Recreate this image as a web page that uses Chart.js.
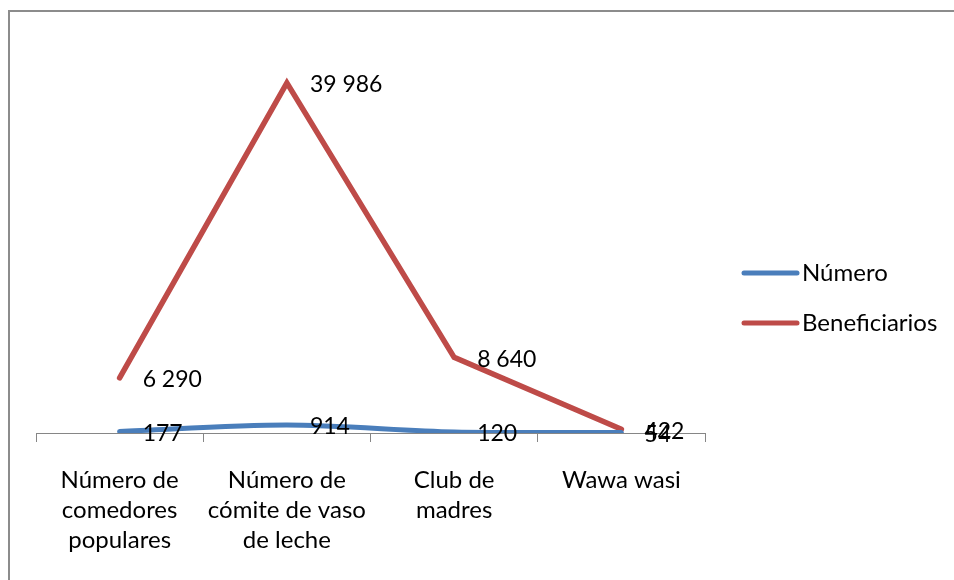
<!DOCTYPE html>
<html>
<head>
<meta charset="utf-8">
<script src="https://cdn.jsdelivr.net/npm/chart.js@4/dist/chart.umd.min.js"></script>
<style>
  html, body { margin: 0; padding: 0; background: #fff; }
  canvas { display: block; }
</style>
</head>
<body>
<canvas id="chart" width="954" height="580"></canvas>
<script>
const categories = [
  ["Número de", "comedores", "populares"],
  ["Número de", "cómite de vaso", "de leche"],
  ["Club de", "madres"],
  ["Wawa wasi"]
];
const numero = [177, 914, 120, 54];
const beneficiarios = [6290, 39986, 8640, 422];
const labelNumero = ["177", "914", "120", "54"];
const labelBeneficiarios = ["6 290", "39 986", "8 640", "422"];

const FONT = "Lato, 'Open Sans', sans-serif";

// gray frame on the left and top edges
const framePlugin = {
  id: "frame",
  beforeDraw(chart) {
    const ctx = chart.ctx;
    ctx.save();
    ctx.fillStyle = "#8c8c8c";
    ctx.fillRect(8, 10, 2, chart.height - 10);
    ctx.fillRect(8, 10, chart.width - 8, 2);
    ctx.restore();
  }
};

// value text next to each point
const valueLabels = {
  id: "valueLabels",
  afterDatasetsDraw(chart) {
    const ctx = chart.ctx;
    ctx.save();
    ctx.font = "23px " + FONT;
    ctx.fillStyle = "#000";
    ctx.textAlign = "left";
    ctx.textBaseline = "middle";
    chart.data.datasets.forEach(function (ds, i) {
      const meta = chart.getDatasetMeta(i);
      meta.data.forEach(function (pt, j) {
        ctx.fillText(ds.valueText[j], pt.x + 23, pt.y + 2);
      });
    });
    ctx.restore();
  }
};

// legend drawn on the right side
const sideLegend = {
  id: "sideLegend",
  afterDraw(chart) {
    const ctx = chart.ctx;
    ctx.save();
    ctx.font = "24px " + FONT;
    ctx.textBaseline = "middle";
    ctx.textAlign = "left";
    chart.data.datasets.forEach(function (ds, i) {
      const y = 273 + i * 50;
      ctx.strokeStyle = ds.borderColor;
      ctx.lineWidth = 5;
      ctx.lineCap = "round";
      ctx.beginPath();
      ctx.moveTo(744, y);
      ctx.lineTo(797, y);
      ctx.stroke();
      ctx.fillStyle = "#000";
      ctx.fillText(ds.label, 802, y);
    });
    ctx.restore();
  }
};

new Chart(document.getElementById("chart"), {
  type: "line",
  data: {
    labels: categories,
    datasets: [
      {
        label: "Número",
        data: numero,
        valueText: labelNumero,
        borderColor: "#4a7ebb",
        backgroundColor: "#4a7ebb",
        borderWidth: 5,
        pointRadius: 0,
        tension: 0.3,
        borderCapStyle: "round"
      },
      {
        label: "Beneficiarios",
        data: beneficiarios,
        valueText: labelBeneficiarios,
        borderColor: "#be4b48",
        backgroundColor: "#be4b48",
        borderWidth: 5.5,
        pointRadius: 0,
        tension: 0,
        borderCapStyle: "round"
      }
    ]
  },
  options: {
    responsive: false,
    animation: false,
    layout: { padding: { left: 36, right: 249, top: 39, bottom: 0 } },
    plugins: {
      legend: { display: false },
      tooltip: { enabled: false }
    },
    scales: {
      x: {
        offset: true,
        grid: {
          offset: true,
          drawOnChartArea: false,
          color: "#868686",
          tickLength: 9,
          lineWidth: 1
        },
        border: { color: "#868686", width: 1 },
        ticks: {
          color: "#000",
          font: { family: FONT, size: 24, lineHeight: "30px" },
          padding: 23,
          maxRotation: 0,
          autoSkip: false
        },
        afterFit: function (scale) {
          scale.height = 147;
        }
      },
      y: {
        display: false,
        min: 0,
        max: 45000
      }
    }
  },
  plugins: [framePlugin, valueLabels, sideLegend]
});
</script>
</body>
</html>
